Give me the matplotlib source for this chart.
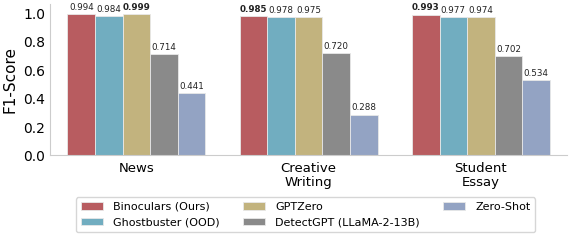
import numpy as np
import matplotlib.pyplot as plt

# datos
categories = ['News', 'Creative\nWriting', 'Student\nEssay']
methods = ['Binoculars (Ours)', 'Ghostbuster (OOD)', 'GPTZero',
           'DetectGPT (LLaMA-2-13B)', 'Zero-Shot']
binoculars = [0.994, 0.985, 0.993]
ghostbuster = [0.984, 0.978, 0.977]
gptzero = [0.999, 0.975, 0.974]
detectgpt = [0.714, 0.720, 0.702]
zeroshot = [0.441, 0.288, 0.534]
colors = ['#b85c60', '#71adc0', '#c2b37e', '#8a8a8a', '#93a3c3']

series = [binoculars, ghostbuster, gptzero, detectgpt, zeroshot]
best = np.max(np.array(series), axis=0)

fig = plt.figure(figsize=(5.71, 2.41), dpi=100)
ax = fig.add_axes([0.088, 0.355, 0.905, 0.63])

x = np.arange(len(categories))
w = 0.16
for i, (vals, name, c) in enumerate(zip(series, methods, colors)):
    pos = x + (i - 2) * w
    ax.bar(pos, vals, w, color=c, label=name, edgecolor='#e8e8e8', linewidth=0.6)
    for p, v, b in zip(pos, vals, best):
        ax.text(p, v + 0.015, f'{v:.3f}', ha='center', va='bottom', fontsize=6.3,
                fontweight='bold' if v == b else 'normal', color='#222222')

ax.set_xlim(-0.5, 2.5)
ax.set_ylim(0, 1.07)
ax.set_yticks([0.0, 0.2, 0.4, 0.6, 0.8, 1.0])
ax.set_xticks(x)
ax.set_xticklabels(categories, fontsize=9.5, linespacing=1.1)
ax.tick_params(axis='y', labelsize=10, length=0)
ax.tick_params(axis='x', length=0, pad=5)
ax.set_ylabel('F1-Score', fontsize=11)
for s in ['top', 'right']:
    ax.spines[s].set_visible(False)
for s in ['left', 'bottom']:
    ax.spines[s].set_color('#cccccc')

fig.legend(loc='lower center', bbox_to_anchor=(0.535, 0.015), ncol=3, fontsize=8,
           frameon=True, edgecolor='#cccccc', handlelength=2.0, columnspacing=2.1,
           labelspacing=0.5, borderpad=0.4, handletextpad=0.9, fancybox=True)

plt.savefig('out.png', dpi=100)
